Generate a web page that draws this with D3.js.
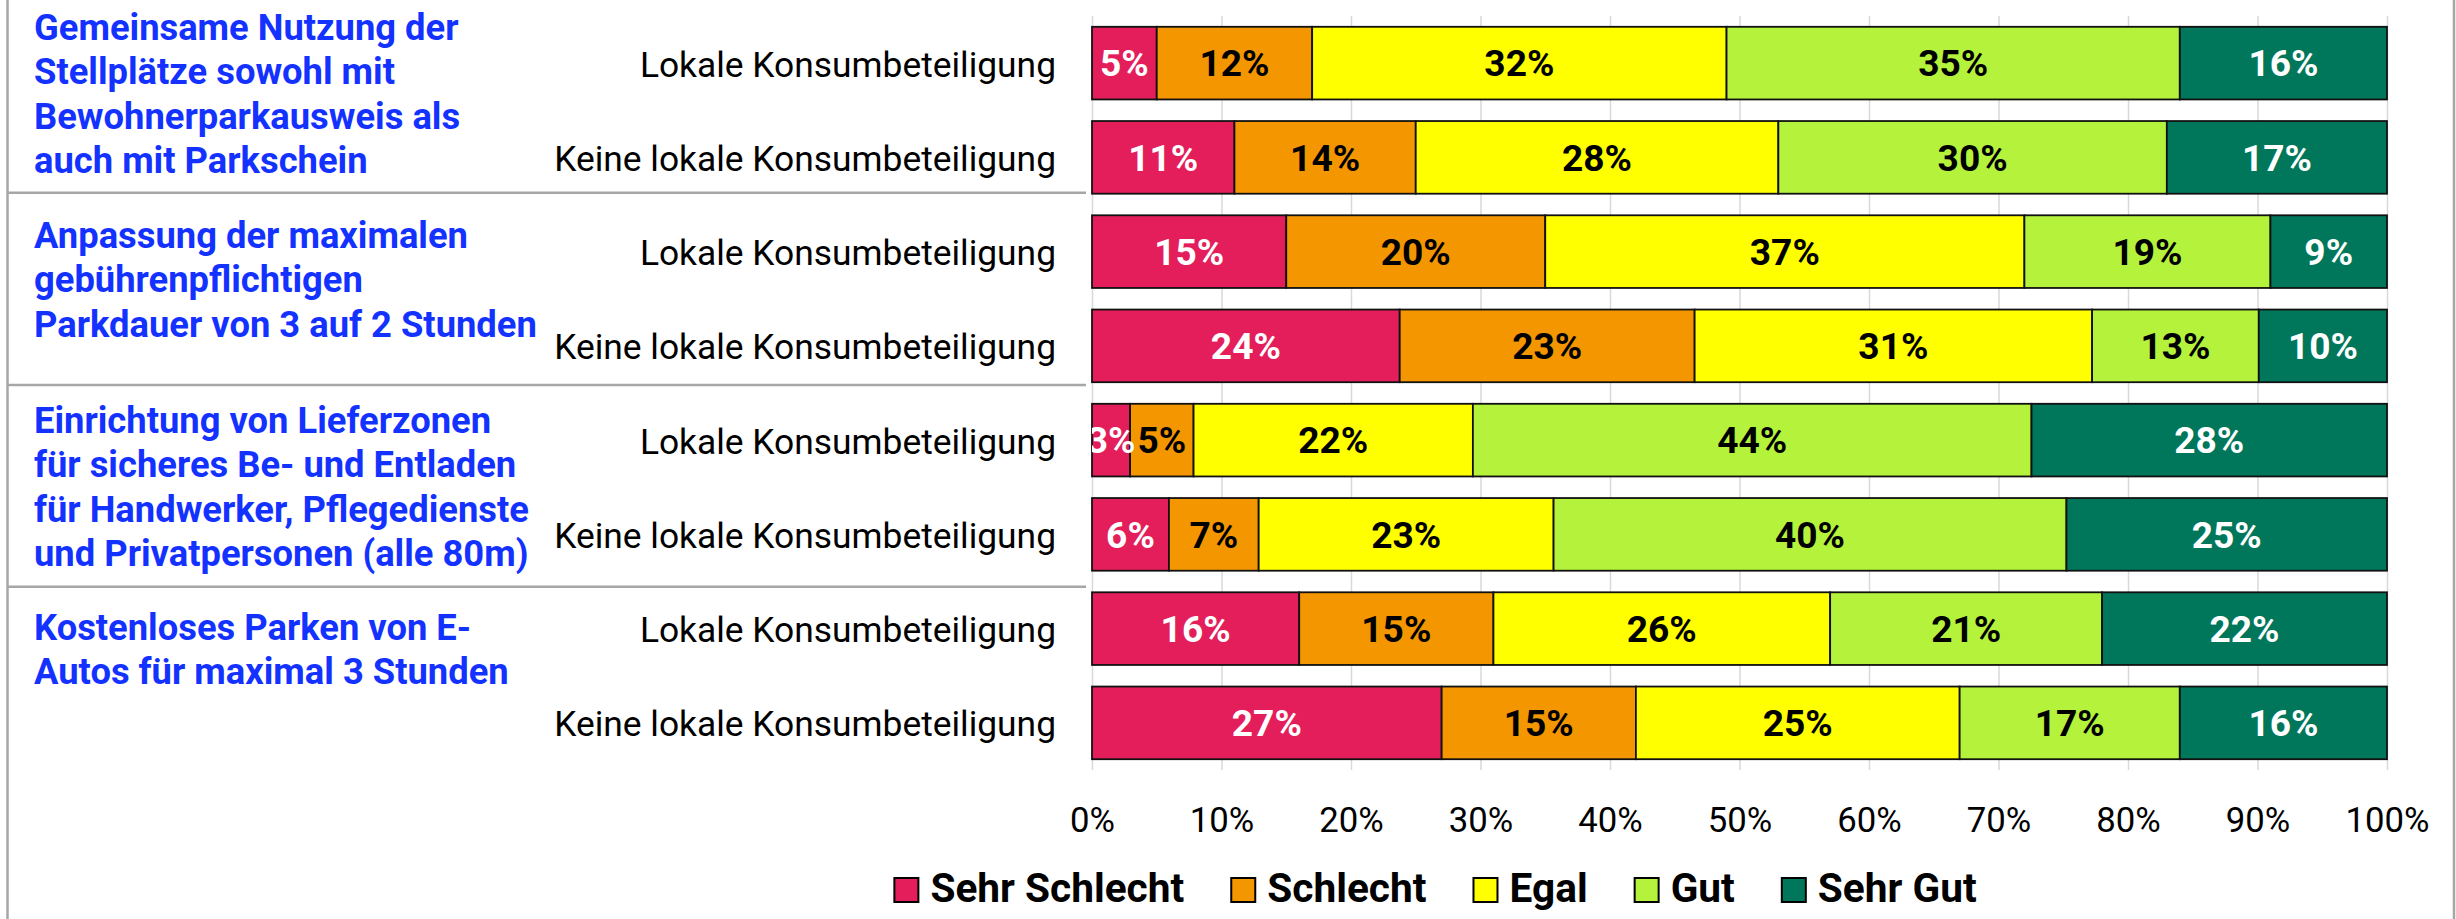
<!DOCTYPE html>
<html>
<head>
<meta charset="utf-8">
<script src="https://cdn.jsdelivr.net/npm/d3@7"></script>
<style>
  html, body { margin: 0; padding: 0; background: #ffffff; }
  svg { display: block; }
</style>
</head>
<body>
<svg id="chart" width="2456" height="919"></svg>
<script>
// ---- data ----
const titleLines = [
  ["Gemeinsame Nutzung der", "Stellplätze sowohl mit", "Bewohnerparkausweis als", "auch mit Parkschein"],
  ["Anpassung der maximalen", "gebührenpflichtigen", "Parkdauer von 3 auf 2 Stunden"],
  ["Einrichtung von Lieferzonen", "für sicheres Be- und Entladen", "für Handwerker, Pflegedienste", "und Privatpersonen (alle 80m)"],
  ["Kostenloses Parken von E-", "Autos für maximal 3 Stunden"]
];
const subgroups = ["Lokale Konsumbeteiligung", "Keine lokale Konsumbeteiligung"];
const ratings = ["Sehr Schlecht", "Schlecht", "Egal", "Gut", "Sehr Gut"];

const sehrSchlecht = [5, 11, 15, 24, 3, 6, 16, 27];
const schlecht     = [12, 14, 20, 23, 5, 7, 15, 15];
const egal         = [32, 28, 37, 31, 22, 23, 26, 25];
const gut          = [35, 30, 19, 13, 44, 40, 21, 17];
const sehrGut      = [16, 17, 9, 10, 28, 25, 22, 16];

const xTicks = [0, 0.1, 0.2, 0.3, 0.4, 0.5, 0.6, 0.7, 0.8, 0.9, 1];

// ---- style ----
const colors = ["#e31e5a", "#f39600", "#ffff00", "#b4f23c", "#00775b"];
const labelColors = ["#ffffff", "#000000", "#000000", "#000000", "#ffffff"];
const titleColor = "#1432ff";
const FONT = "Roboto, 'Noto Sans', 'Liberation Sans', sans-serif";

const W = 2456, H = 919;
const plot = { left: 1092, right: 2387, top: 16, bottom: 770 };

const svg = d3.select("#chart");
svg.append("rect").attr("width", W).attr("height", H).attr("fill", "#fff");

// font size that makes a sample string reach a given width
function fitSize(sample, weight, width) {
  const t = svg.append("text")
    .attr("font-family", FONT).attr("font-weight", weight)
    .attr("font-size", 100).text(sample);
  const w = t.node().getComputedTextLength();
  t.remove();
  return 100 * width / w;
}
const rowFont = fitSize("Keine lokale Konsumbeteiligung", 400, 502);
const titleFont = fitSize("Parkdauer von 3 auf 2 Stunden", 700, 503);
const valueFont = fitSize("32%", 700, 70);
const tickFont = fitSize("100%", 400, 84);
const legendFont = fitSize("Sehr Schlecht", 700, 254);

// ---- table for the stack ----
const rows = sehrSchlecht.map((_, i) => ({
  idx: i,
  "Sehr Schlecht": sehrSchlecht[i],
  "Schlecht": schlecht[i],
  "Egal": egal[i],
  "Gut": gut[i],
  "Sehr Gut": sehrGut[i]
}));
const series = d3.stack().keys(ratings).offset(d3.stackOffsetExpand)(rows);

// ---- scales ----
const x = d3.scaleLinear().domain([0, 1]).range([plot.left, plot.right]);
const y = d3.scaleBand().domain(rows.map(d => d.idx))
  .range([plot.top, plot.bottom]).paddingInner(0.229).paddingOuter(0.1145);

// ---- frame ----
svg.append("line").attr("x1", 7.5).attr("x2", 7.5).attr("y1", 0).attr("y2", H)
  .attr("stroke", "#a6a6a6").attr("stroke-width", 2.5);
svg.append("line").attr("x1", 2454).attr("x2", 2454).attr("y1", 0).attr("y2", H)
  .attr("stroke", "#a6a6a6").attr("stroke-width", 2.5);

// ---- gridlines ----
const grid = svg.append("g").attr("transform", `translate(0,${plot.bottom})`)
  .call(d3.axisBottom(x).tickValues(xTicks).tickSize(-(plot.bottom - plot.top)).tickFormat(""));
grid.select(".domain").remove();
grid.selectAll("line").attr("stroke", "#d9d9d9").attr("stroke-width", 1.5);

// ---- tick labels ----
const axis = svg.append("g").attr("transform", `translate(0,${plot.bottom})`)
  .call(d3.axisBottom(x).tickValues(xTicks).tickSize(0).tickFormat(d3.format(".0%")));
axis.select(".domain").remove();
axis.selectAll("text")
  .attr("y", 62).attr("dy", 0)
  .attr("font-family", FONT).attr("font-size", tickFont).attr("fill", "#000");

// ---- bars ----
const layers = svg.append("g").selectAll("g").data(series).join("g")
  .attr("fill", (d, i) => colors[i]);
layers.selectAll("rect").data(d => d).join("rect")
  .attr("x", d => x(d[0]))
  .attr("width", d => x(d[1]) - x(d[0]))
  .attr("y", d => y(d.data.idx))
  .attr("height", y.bandwidth())
  .attr("stroke", "#111").attr("stroke-width", 1.8);

// ---- value labels (clipped to the plot) ----
svg.append("clipPath").attr("id", "plotClip").append("rect")
  .attr("x", plot.left).attr("y", plot.top)
  .attr("width", plot.right - plot.left).attr("height", plot.bottom - plot.top);
const labels = svg.append("g").attr("clip-path", "url(#plotClip)");
series.forEach((s, si) => {
  labels.append("g").selectAll("text").data(s).join("text")
    .attr("x", d => (x(d[0]) + x(d[1])) / 2)
    .attr("y", d => y(d.data.idx) + y.bandwidth() / 2)
    .attr("dy", "0.36em")
    .attr("text-anchor", "middle")
    .attr("font-family", FONT).attr("font-weight", 700).attr("font-size", valueFont)
    .attr("fill", labelColors[si])
    .text(d => d.data[s.key] + "%");
});

// ---- row labels ----
svg.append("g").selectAll("text").data(rows).join("text")
  .attr("x", 1056)
  .attr("y", d => y(d.idx) + y.bandwidth() / 2)
  .attr("dy", "0.38em")
  .attr("text-anchor", "end")
  .attr("font-family", FONT).attr("font-size", rowFont).attr("fill", "#000")
  .text(d => subgroups[d.idx % 2]);

// ---- group titles and separators ----
const titleFirstLine = [27, 235, 420, 627];
const lineStep = 44.4;
const separatorY = [192.7, 385, 586.7];
const titles = svg.append("g");
titleLines.forEach((lines, gi) => {
  titles.append("text")
    .attr("font-family", FONT).attr("font-weight", 700).attr("font-size", titleFont)
    .attr("fill", titleColor)
    .selectAll("tspan").data(lines).join("tspan")
    .attr("x", 34)
    .attr("y", (d, li) => titleFirstLine[gi] + li * lineStep)
    .attr("dy", "0.36em")
    .text(d => d);
});
svg.append("g").selectAll("line").data(separatorY).join("line")
  .attr("x1", 7).attr("x2", 1086)
  .attr("y1", d => d).attr("y2", d => d)
  .attr("stroke", "#a6a6a6").attr("stroke-width", 2.5);

// ---- legend ----
const legend = svg.append("g");
const items = legend.selectAll("g").data(ratings).join("g");
items.append("rect")
  .attr("x", 0).attr("y", 878).attr("width", 24).attr("height", 24)
  .attr("fill", (d, i) => colors[i]).attr("stroke", "#000").attr("stroke-width", 2);
items.append("text")
  .attr("x", 36).attr("y", 902)
  .attr("font-family", FONT).attr("font-weight", 700).attr("font-size", legendFont)
  .attr("fill", "#000")
  .text(d => d);
let cx = 0;
items.each(function () {
  const w = 36 + d3.select(this).select("text").node().getComputedTextLength();
  d3.select(this).attr("data-x", cx);
  cx += w + 47;
});
const totalW = cx - 47;
const startX = 1435.5 - totalW / 2;
items.attr("transform", function () {
  return `translate(${startX + (+d3.select(this).attr("data-x"))},0)`;
});
</script>
</body>
</html>
